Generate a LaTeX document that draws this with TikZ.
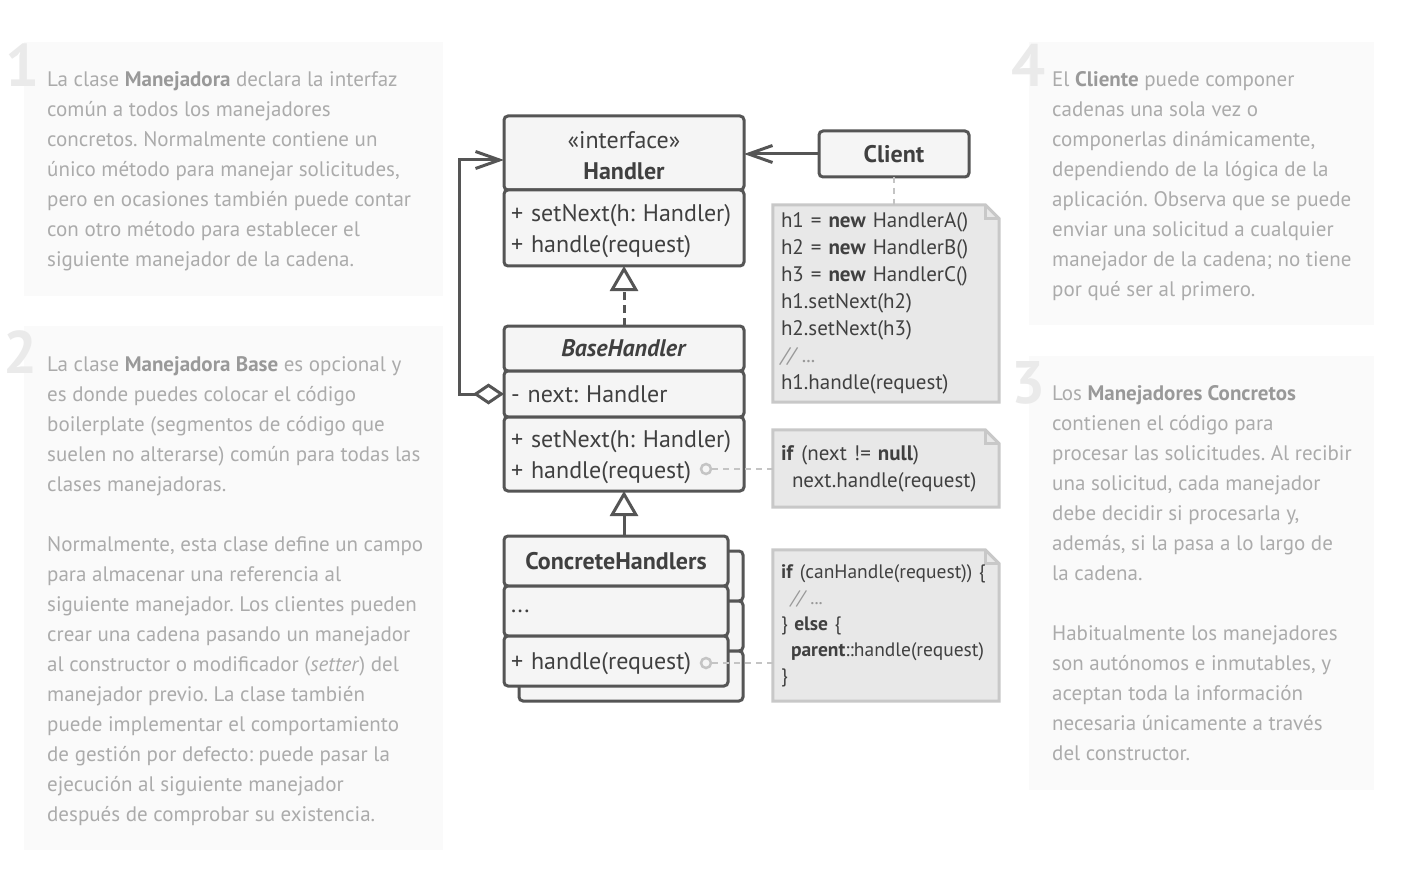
\documentclass[tikz,border=0pt]{standalone}
\usepackage{fontspec}
\setmainfont{PT Sans}
\usetikzlibrary{positioning,arrows.meta,backgrounds}

\definecolor{panelBg}{HTML}{FAFAFA}
\definecolor{panelText}{HTML}{ABABAB}
\definecolor{panelBold}{HTML}{999999}
\definecolor{panelNum}{HTML}{EAEAEA}
\definecolor{umlLine}{HTML}{555555}
\definecolor{umlFill}{HTML}{F5F5F5}
\definecolor{umlText}{HTML}{404040}
\definecolor{noteFill}{HTML}{E8E8E8}
\definecolor{noteLine}{HTML}{C8C8C8}
\definecolor{noteDots}{HTML}{C4C4C4}
\definecolor{noteComment}{HTML}{999999}

\newcommand{\panelfont}{\fontsize{21}{30}\selectfont}
\newcommand{\numfont}{\fontsize{60}{60}\selectfont\bfseries}
\newcommand{\umlfont}{\fontsize{24}{31}\selectfont}
\newcommand{\notefont}{\fontsize{21}{27}\selectfont}
\newcommand{\hl}[1]{\textcolor{panelBold}{\textbf{#1}}}
\newcommand{\kw}[1]{\textbf{#1}}
\newcommand{\cmt}[1]{\textcolor{noteComment}{\textit{#1}}}
\newcommand{\toproom}{\rule{0pt}{23pt}}
\newcommand{\foldnote}[1]{%
  \filldraw[fill=noteFill, draw=noteLine, line width=3pt]
    (#1.north west) -- ([xshift=-14pt]#1.north east) -- ([yshift=-14pt]#1.north east)
    -- (#1.south east) -- (#1.south west) -- cycle;
  \draw[noteLine, line width=3pt]
    ([xshift=-14pt]#1.north east) -- ([xshift=-14pt,yshift=-14pt]#1.north east)
    -- ([yshift=-14pt]#1.north east);}

\tikzset{
  umlpart/.style={draw=umlLine, fill=umlFill, line width=3pt, rounded corners=4pt,
    outer sep=0pt, inner xsep=7pt, inner ysep=0pt, text=umlText, font=\umlfont,
    minimum width=240pt},
  umlhead/.style={umlpart, align=center},
  umlbody/.style={umlpart, text width=226pt, align=left},
  concpart/.style={minimum width=224pt, text width=210pt},
  notebox/.style={inner xsep=8pt, inner ysep=0pt, text=umlText, align=left,
    font=\notefont, minimum width=226pt, text width=210pt},
  paneltext/.style={anchor=north west, inner sep=0pt, align=left, text=panelText,
    font=\panelfont},
  panelnum/.style={anchor=base east, inner sep=0pt, text=panelNum, font=\numfont},
  dotmark/.style={circle, draw=noteDots, fill=umlFill, line width=2.5pt,
    minimum size=10pt, inner sep=0pt},
  noteline/.style={draw=noteDots, line width=2.5pt, dash pattern=on 6pt off 5pt},
  assoc/.style={draw=umlLine, line width=3pt, -{Straight Barb[length=24pt,width=17pt]}},
  aggr/.style={draw=umlLine, line width=3pt,
    {Diamond[open,length=31pt,width=21pt]}-{Straight Barb[length=24pt,width=17pt]}},
  inherit/.style={draw=umlLine, line width=3pt, -{Triangle[open,length=25pt,width=28pt]}},
  realize/.style={inherit, dash pattern=on 8pt off 5pt},
}

\begin{document}
\frenchspacing
\begin{tikzpicture}[x=1pt,y=-1pt]
\useasboundingbox (0,0) rectangle (1426,885);
\begin{scope}[on background layer]
  \fill[white] (0,0) rectangle (1426,885);
\end{scope}

% panels
\fill[panelBg] (24,42) rectangle (443,296);
\fill[panelBg] (24,326) rectangle (443,850);
\fill[panelBg] (1029,42) rectangle (1374,325);
\fill[panelBg] (1029,356) rectangle (1374,790);
\node[panelnum] (num1) at (40,87) {1};
\node[panelnum] (num2) at (38,373) {2};
\node[panelnum] (num4) at (1046,87) {4};
\node[panelnum] (num3) at (1046,403) {3};

\node[paneltext] (text1) at (47,71) {La clase \hl{Manejadora} declara la interfaz\\
común a todos los manejadores\\
concretos. Normalmente contiene un\\
único método para manejar solicitudes,\\
pero en ocasiones también puede contar\\
con otro método para establecer el\\
siguiente manejador de la cadena.};

\node[paneltext] (text2) at (47,356) {La clase \hl{Manejadora Base} es opcional y\\
es donde puedes colocar el código\\
boilerplate (segmentos de código que\\
suelen no alterarse) común para todas las\\
clases manejadoras.\\
\mbox{}\\
Normalmente, esta clase define un campo\\
para almacenar una referencia al\\
siguiente manejador. Los clientes pueden\\
crear una cadena pasando un manejador\\
al constructor o modificador (\textit{setter}) del\\
manejador previo. La clase también\\
puede implementar el comportamiento\\
de gestión por defecto: puede pasar la\\
ejecución al siguiente manejador\\
después de comprobar su existencia.};

\node[paneltext] (text4) at (1052,71) {El \hl{Cliente} puede componer\\
cadenas una sola vez o\\
componerlas dinámicamente,\\
dependiendo de la lógica de la\\
aplicación. Observa que se puede\\
enviar una solicitud a cualquier\\
manejador de la cadena; no tiene\\
por qué ser al primero.};

\node[paneltext] (text3) at (1052,385.5) {Los \hl{Manejadores Concretos}\\
contienen el código para\\
procesar las solicitudes. Al recibir\\
una solicitud, cada manejador\\
debe decidir si procesarla y,\\
además, si la pasa a lo largo de\\
la cadena.\\
\mbox{}\\
Habitualmente los manejadores\\
son autónomos e inmutables, y\\
aceptan toda la información\\
necesaria únicamente a través\\
del constructor.};

% classes
\node[umlhead, minimum height=74pt] (handlerTitle) at (624,153) {\toproom«interface»\\\textbf{Handler}};
\node[umlbody, minimum height=76pt, below=0pt of handlerTitle] (handlerOps) {\toproom+ setNext(h: Handler)\\+ handle(request)};

\node[umlhead, minimum width=150pt, minimum height=46pt] (client) at (894,154) {\textbf{Client}};

\node[umlhead, minimum height=45pt] (baseTitle) at (624,348.5) {\textbf{\textit{BaseHandler}}};
\node[umlbody, minimum height=46pt, below=0pt of baseTitle] (baseField) {- next: Handler};
\node[umlbody, minimum height=74pt, below=0pt of baseField] (baseOps) {\toproom+ setNext(h: Handler)\\+ handle(request)};

\node[umlhead, concpart, minimum height=50pt] (concTitleBack) at (631,576) {};
\node[umlbody, concpart, minimum height=50pt, below=0pt of concTitleBack] (concDotsBack) {};
\node[umlbody, concpart, minimum height=50pt, below=0pt of concDotsBack] (concOpsBack) {};
\node[umlhead, concpart, minimum height=50pt] (concTitle) at (616,561) {\textbf{ConcreteHandlers}};
\node[umlbody, concpart, minimum height=50pt, below=0pt of concTitle] (concDots) {...};
\node[umlbody, concpart, minimum height=50pt, below=0pt of concDots] (concOps) {\toproom+ handle(request)};

\node[dotmark] (baseDot) at (706,469) {};
\node[dotmark] (concDot) at (706,663) {};

% notes
\node[notebox, minimum height=197pt] (noteClient) at (886,303.5) {h1 = \kw{new} HandlerA()\\
h2 = \kw{new} HandlerB()\\
h3 = \kw{new} HandlerC()\\
h1.setNext(h2)\\
h2.setNext(h3)\\
\cmt{// ...}\\
h1.handle(request)};
\node[notebox, minimum height=77pt] (noteNext) at (886,468.5) {\kw{if} (next != \kw{null})\\
\hspace*{11pt}next.handle(request)};
\node[notebox, minimum height=151pt, font=\fontsize{19.5}{26}\selectfont] (noteConc) at (886,625.5) {\kw{if} (canHandle(request)) \{\\
\hspace*{10pt}\cmt{// ...}\\
\} \kw{else} \{\\
\hspace*{10pt}\kw{parent}::handle(request)\\
\}};
\begin{scope}[on background layer]
  \foldnote{noteClient}
  \foldnote{noteNext}
  \foldnote{noteConc}
\end{scope}

% connectors
\draw[noteline] (client.south) -- (client.south |- noteClient.north);
\draw[noteline] (baseDot.east) -- (baseDot -| noteNext.west);
\draw[noteline] (concDot.east) -- (concDot -| noteConc.west);
\draw[assoc] (client.west) -- (client.west -| handlerTitle.east);
\draw[aggr] (baseField.west) -- ++(-45,0) |- ([yshift=-7pt]handlerTitle.west);
\draw[realize] (baseTitle.north) -- (handlerOps.south);
\draw[inherit] (baseOps.south |- concTitle.north) -- (baseOps.south);
\end{tikzpicture}
\end{document}
